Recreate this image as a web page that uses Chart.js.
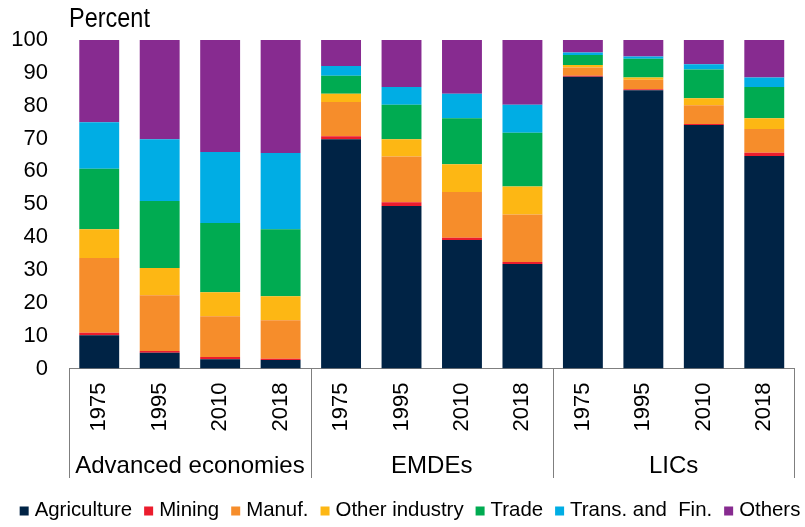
<!DOCTYPE html>
<html>
<head>
<meta charset="utf-8">
<script src="https://cdn.jsdelivr.net/npm/chart.js@4/dist/chart.umd.min.js"></script>
<style>
  html, body { margin: 0; padding: 0; background: #ffffff; }
  #wrap { width: 805px; height: 527px; position: relative; }
</style>
</head>
<body>
<div id="wrap"><canvas id="c" width="805" height="527"></canvas></div>
<script>
const years = ["1975", "1995", "2010", "2018", "1975", "1995", "2010", "2018", "1975", "1995", "2010", "2018"];
const groups = ["Advanced economies", "EMDEs", "LICs"];
const groupSize = 4;

const agriculture   = [10.1, 4.8, 2.8, 2.6, 69.8, 49.5, 39.1, 31.8, 88.8, 84.7, 74.1, 64.7];
const mining        = [0.8, 0.5, 0.7, 0.4, 0.9, 1.1, 0.7, 0.6, 0.3, 0.3, 0.3, 1.0];
const manuf         = [22.7, 17.0, 12.4, 11.7, 10.4, 13.9, 13.9, 14.5, 2.5, 2.9, 5.7, 7.2];
const otherIndustry = [8.8, 8.3, 7.3, 7.3, 2.5, 5.3, 8.5, 8.5, 0.8, 0.7, 2.2, 3.3];
const trade         = [18.4, 20.4, 21.1, 20.4, 5.5, 10.5, 14.0, 16.4, 3.0, 5.7, 8.7, 9.5];
const transFin      = [14.2, 18.8, 21.6, 23.2, 3.0, 5.4, 7.4, 8.5, 0.8, 0.7, 1.6, 2.9];
const others        = [25.0, 30.2, 34.1, 34.4, 7.9, 14.3, 16.4, 19.7, 3.8, 5.0, 7.4, 11.4];

const yTicks = [0, 10, 20, 30, 40, 50, 60, 70, 80, 90, 100];

const FONT = "'Liberation Sans', Arial, sans-serif";

const series = [
  { label: "Agriculture", data: agriculture, color: "#002345" },
  { label: "Mining", data: mining, color: "#EB1C2D" },
  { label: "Manuf.", data: manuf, color: "#F68D2B" },
  { label: "Other industry", data: otherIndustry, color: "#FDB714" },
  { label: "Trade", data: trade, color: "#00AB51" },
  { label: "Trans. and  Fin.", data: transFin, color: "#00ADE4" },
  { label: "Others", data: others, color: "#872B90" }
];

const extras = {
  id: "extras",
  afterDraw(chart) {
    const ctx = chart.ctx;
    const x = chart.scales.x;
    const area = chart.chartArea;
    const n = years.length;
    const step = (x.getPixelForValue(1) - x.getPixelForValue(0));
    ctx.save();
    // "Percent" label
    ctx.fillStyle = "#000000";
    ctx.textAlign = "left";
    ctx.textBaseline = "alphabetic";
    ctx.save();
    ctx.translate(69, 26.5);
    ctx.scale(0.87, 1);
    ctx.font = "27px " + FONT;
    ctx.fillText("Percent", 0, 0);
    ctx.restore();
    // group separators
    ctx.strokeStyle = "#7f7f7f";
    ctx.lineWidth = 1;
    for (let g = 0; g <= groups.length; g++) {
      const idx = g * groupSize;
      const px = Math.round(x.getPixelForValue(Math.min(idx, n - 1)) + (idx >= n ? step / 2 : -step / 2)) + 0.5;
      ctx.beginPath();
      ctx.moveTo(px, area.bottom);
      ctx.lineTo(px, 478);
      ctx.stroke();
    }
    // group labels
    ctx.font = "24px " + FONT;
    ctx.textAlign = "center";
    ctx.textBaseline = "alphabetic";
    for (let g = 0; g < groups.length; g++) {
      const a = x.getPixelForValue(g * groupSize);
      const b = x.getPixelForValue(g * groupSize + groupSize - 1);
      ctx.fillText(groups[g], (a + b) / 2, 473);
    }
    // legend (one row, drawn from the datasets)
    const box = 9, boxGap = 6, itemGap = 12, baseline = 516;
    ctx.font = "20.4px " + FONT;
    ctx.textAlign = "left";
    const items = chart.data.datasets.map(d => ({ label: d.label, color: d.backgroundColor, w: ctx.measureText(d.label).width }));
    let total = 0;
    items.forEach((it, i) => { total += box + boxGap + it.w + (i < items.length - 1 ? itemGap : 0); });
    let cx = 410 - total / 2;
    items.forEach(it => {
      ctx.fillStyle = it.color;
      ctx.fillRect(cx, baseline - box - 0.5, box, box);
      ctx.fillStyle = "#000000";
      ctx.fillText(it.label, cx + box + boxGap, baseline);
      cx += box + boxGap + it.w + itemGap;
    });
    ctx.restore();
  }
};

new Chart(document.getElementById("c"), {
  type: "bar",
  data: {
    labels: years,
    datasets: series.map(s => ({
      label: s.label,
      data: s.data,
      backgroundColor: s.color,
      borderWidth: 0,
      barPercentage: 0.66,
      categoryPercentage: 1.0
    }))
  },
  options: {
    responsive: false,
    animation: false,
    devicePixelRatio: 1,
    layout: { padding: { top: 40, right: 8, left: 0, bottom: 63.5 } },
    plugins: {
      legend: { display: false },
      tooltip: { enabled: false },
      title: { display: false }
    },
    scales: {
      x: {
        stacked: true,
        grid: { display: false, drawTicks: false },
        border: { display: true, color: "#7f7f7f", width: 1 },
        ticks: {
          color: "#000000",
          font: { family: FONT, size: 22 },
          minRotation: 90,
          maxRotation: 90,
          padding: 14,
          autoSkip: false
        },
        afterFit(scale) { scale.height = 95; }
      },
      y: {
        stacked: true,
        min: 0,
        max: 100,
        grid: { display: false, drawTicks: false },
        border: { display: false },
        afterBuildTicks(scale) { scale.ticks = yTicks.map(v => ({ value: v })); },
        ticks: {
          color: "#000000",
          font: { family: FONT, size: 22 },
          padding: 21
        },
        afterFit(scale) { scale.width = 69; }
      }
    }
  },
  plugins: [extras]
});
</script>
</body>
</html>
